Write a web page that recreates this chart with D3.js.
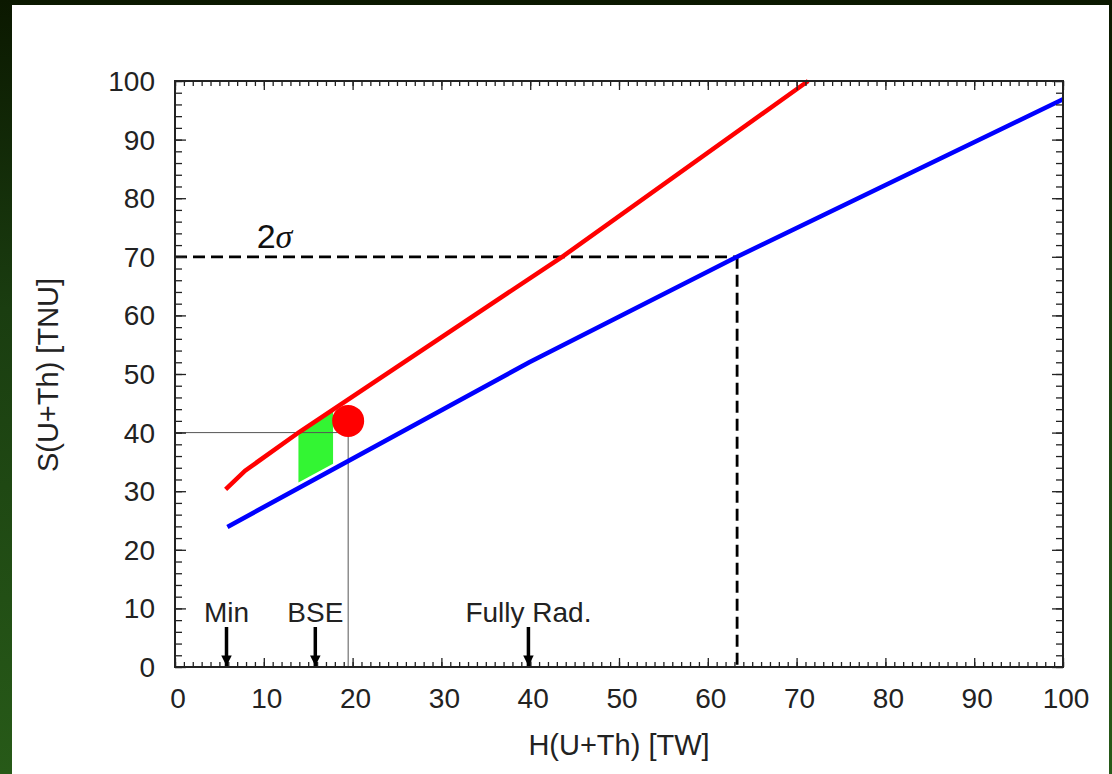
<!DOCTYPE html>
<html><head><meta charset="utf-8">
<script src="https://cdn.jsdelivr.net/npm/d3@7"></script>
<style>
html,body{margin:0;padding:0;background:#000;}
svg{display:block;}
text{font-family:"Liberation Sans",Arial,sans-serif;}
</style></head>
<body>
<svg id="chart" width="1112" height="774"></svg>
<script>
// ---- data ----
const xTicks = [0,10,20,30,40,50,60,70,80,90,100];
const yTicks = [0,10,20,30,40,50,60,70,80,90,100];
const redLine = [[5.7,30.3],[7.9,33.5],[14.0,40.1],[43.6,70.0],[71.3,100]];
const blueLine = [[5.9,23.9],[39.9,52.0],[63.3,70.0],[100,96.9]];
const greenBandX = [13.9, 17.8];
const greenTop = [40.1, 43.9];
const greenBottom = [31.5, 34.7];
const bestPoint = [19.5, 42];
const guideLevel = [19.5, 40];
const sigmaLevel = [63.3, 70];
const markers = [{label:"Min", x:5.8},{label:"BSE", x:15.8},{label:"Fully Rad.", x:39.8}];
const xLabel = "H(U+Th) [TW]";
const yLabel = "S(U+Th) [TNU]";

(function(){
const svg = d3.select("#chart");
const defs = svg.append("defs");
const bg = defs.append("linearGradient").attr("id","bg").attr("x1",0).attr("y1",0).attr("x2",0).attr("y2",1);
bg.append("stop").attr("offset","0%").attr("stop-color","#0b1800");
bg.append("stop").attr("offset","40%").attr("stop-color","#1a3d10");
bg.append("stop").attr("offset","100%").attr("stop-color","#275a18");
svg.append("rect").attr("width",1112).attr("height",774).attr("fill","url(#bg)");
svg.append("rect").attr("x",12).attr("y",5).attr("width",1097).attr("height",774).attr("fill","#ffffff");

const x = d3.scaleLinear().domain([0,100]).range([175,1063]);
const y = d3.scaleLinear().domain([0,100]).range([667,81]);

const g = svg.append("g");

// green band
const band = [[greenBandX[0],greenTop[0]],[greenBandX[1],greenTop[1]],[greenBandX[1],greenBottom[1]],[greenBandX[0],greenBottom[0]]];
g.append("path").attr("d", d3.line().x(d=>x(d[0])).y(d=>y(d[1]))(band)+"Z").attr("fill","#33f533");

// thin guides
g.append("line").attr("x1",x(0)).attr("x2",x(guideLevel[0])).attr("y1",y(guideLevel[1])).attr("y2",y(guideLevel[1])).attr("stroke","#555").attr("stroke-width",1);
g.append("line").attr("x1",x(guideLevel[0])).attr("x2",x(guideLevel[0])).attr("y1",y(0)).attr("y2",y(bestPoint[1])).attr("stroke","#555").attr("stroke-width",1);

// dashed 2sigma lines
g.append("line").attr("x1",x(0)).attr("x2",x(sigmaLevel[0])).attr("y1",y(sigmaLevel[1])).attr("y2",y(sigmaLevel[1])).attr("stroke","#000").attr("stroke-width",2.8).attr("stroke-dasharray","12,6");
g.append("line").attr("x1",x(sigmaLevel[0])).attr("x2",x(sigmaLevel[0])).attr("y1",y(sigmaLevel[1])).attr("y2",y(0)).attr("stroke","#000").attr("stroke-width",2.8).attr("stroke-dasharray","12,6");

const line = d3.line().x(d=>x(d[0])).y(d=>y(d[1]));
g.append("path").attr("d",line(redLine)).attr("fill","none").attr("stroke","#ff0000").attr("stroke-width",4.5);
g.append("path").attr("d",line(blueLine)).attr("fill","none").attr("stroke","#0000ff").attr("stroke-width",4.5);

g.append("circle").attr("cx",x(bestPoint[0])).attr("cy",y(bestPoint[1])).attr("r",16).attr("fill","#ff0000");

// frame
g.append("rect").attr("x",x(0)).attr("y",y(100)).attr("width",x(100)-x(0)).attr("height",y(0)-y(100)).attr("fill","none").attr("stroke","#222").attr("stroke-width",2);

// axes with inward ticks
const minorX = d3.range(0,101,1), minorY = d3.range(0,101,2);
function styleAx(a){a.select(".domain").remove(); a.selectAll("line").attr("stroke","#222").attr("stroke-width",1.3);}
g.append("g").attr("transform",`translate(0,${y(0)})`).call(d3.axisBottom(x).tickValues(minorX).tickSize(-5).tickFormat("")).call(styleAx);
g.append("g").attr("transform",`translate(0,${y(100)})`).call(d3.axisTop(x).tickValues(minorX).tickSize(-5).tickFormat("")).call(styleAx);
g.append("g").attr("transform",`translate(${x(0)},0)`).call(d3.axisLeft(y).tickValues(minorY).tickSize(-7).tickFormat("")).call(styleAx);
g.append("g").attr("transform",`translate(${x(100)},0)`).call(d3.axisRight(y).tickValues(minorY).tickSize(-7).tickFormat("")).call(styleAx);
// major ticks
g.append("g").attr("transform",`translate(0,${y(0)})`).call(d3.axisBottom(x).tickValues(xTicks).tickSize(-9).tickFormat("")).call(styleAx);
g.append("g").attr("transform",`translate(0,${y(100)})`).call(d3.axisTop(x).tickValues(xTicks).tickSize(-9).tickFormat("")).call(styleAx);
g.append("g").attr("transform",`translate(${x(0)},0)`).call(d3.axisLeft(y).tickValues(yTicks).tickSize(-11).tickFormat("")).call(styleAx);
g.append("g").attr("transform",`translate(${x(100)},0)`).call(d3.axisRight(y).tickValues(yTicks).tickSize(-11).tickFormat("")).call(styleAx);

// tick labels
g.selectAll(".xl").data(xTicks).join("text").attr("x",d=>x(d)+3).attr("y",y(0)+41)
  .attr("text-anchor","middle").attr("font-size",28).attr("fill","#222").text(d=>d);
g.selectAll(".yl").data(yTicks).join("text").attr("x",x(0)-20).attr("y",d=>y(d)+10)
  .attr("text-anchor","end").attr("font-size",28).attr("fill","#222").text(d=>d);

// axis titles
g.append("text").attr("x",619).attr("y",755).attr("text-anchor","middle").attr("font-size",29).attr("fill","#222").text(xLabel);
g.append("text").attr("transform","translate(58,375) rotate(-90)").attr("text-anchor","middle").attr("font-size",29).attr("fill","#222").text(yLabel);

// 2 sigma label
const sig = g.append("text").attr("x",x(9.2)).attr("y",y(70)-9).attr("fill","#111");
sig.append("tspan").attr("font-size",34).attr("font-style","normal").text("2");
sig.append("tspan").attr("font-family","'Liberation Serif','DejaVu Serif',serif").attr("font-style","italic").attr("font-size",34).text("σ");

// markers with arrows
defs.append("marker").attr("id","ah").attr("viewBox","0 0 10 10").attr("refX",10).attr("refY",5)
  .attr("markerWidth",3.4).attr("markerHeight",3.0).attr("orient","auto")
  .append("path").attr("d","M0,0L10,5L0,10Z").attr("fill","#000");
const mk = g.selectAll(".mk").data(markers).join("g");
mk.append("line").attr("x1",d=>x(d.x)).attr("x2",d=>x(d.x)).attr("y1",627).attr("y2",y(0)-1)
  .attr("stroke","#000").attr("stroke-width",3.5).attr("marker-end","url(#ah)");
mk.append("text").attr("x",d=>x(d.x)).attr("y",622).attr("text-anchor","middle").attr("font-size",28).attr("fill","#222").text(d=>d.label);
})();
</script>
</body></html>
